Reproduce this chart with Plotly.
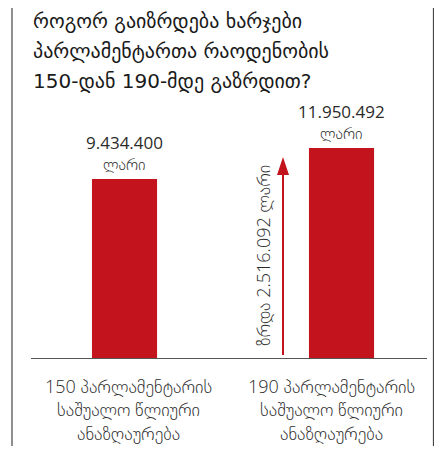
import plotly.graph_objects as go

# ---- data ----
categories = ["150 პარლამენტარის<br>საშუალო წლიური<br>ანაზღაურება",
              "190 პარლამენტარის<br>საშუალო წლიური<br>ანაზღაურება"]
values = [9434400, 11950492]
value_labels = ["9.434.400", "11.950.492"]
unit_label = "ლარი"
increase_label = "ზრდა 2.516.092 ლარი"
title_lines = ["როგორ გაიზრდება ხარჯები",
               "პარლამენტართა რაოდენობის",
               "150-დან 190-მდე გაზრდით?"]

# ---- style / scale ----
RED = "#C3141E"
TXT = "#2b2b2b"
FONT = "Open Sans, DejaVu Sans, sans-serif"
BASE = -5.094e6          # visual baseline of the (not-to-scale) infographic
PPU = 81164.0            # value units per pixel
Y_TOP = BASE + 258 * PPU
xpos = [0, 1]

fig = go.Figure()
fig.add_trace(go.Bar(
    x=xpos, y=[v - BASE for v in values], base=BASE,
    width=0.30, marker=dict(color=RED, line=dict(width=0)),
    hoverinfo="skip", showlegend=False))

ann = []
# value labels
for x, v, lab in zip(xpos, values, value_labels):
    ann.append(dict(x=x, y=v, xref="x", yref="y", text=lab, showarrow=False,
                    yanchor="middle", yshift=37,
                    font=dict(family=FONT, size=17, color=TXT)))
    ann.append(dict(x=x, y=v, xref="x", yref="y", text=unit_label, showarrow=False,
                    yanchor="middle", yshift=15,
                    font=dict(family=FONT, size=16, color=TXT, weight=200)))
# category labels under baseline
for x, c, sh in zip(xpos, categories, [4, -10]):
    ann.append(dict(x=x, y=0, xref="x", yref="paper", text=c, showarrow=False,
                    yanchor="top", yshift=-14, xshift=sh, align="center",
                    font=dict(family=FONT, size=18, color=TXT, weight=200)))
# rotated increase label
ann.append(dict(x=0.638, y=BASE + 103 * PPU, xref="x", yref="y",
                text=increase_label, textangle=-90, showarrow=False,
                font=dict(family=FONT, size=18, color=TXT, weight=200)))
# title lines
for i, t in enumerate(title_lines):
    ann.append(dict(x=0.0, y=(350 - 13 - 30 * i) / 258, xref="paper", yref="paper",
                    text=t, showarrow=False, xanchor="left", yanchor="middle",
                    font=dict(family="DejaVu Sans, sans-serif", size=20, color="#1a1a1a")))

shapes = [
    # arrow shaft
    dict(type="line", xref="x", yref="y", x0=0.7304, x1=0.7304,
         y0=BASE + 3 * PPU, y1=BASE + 185 * PPU, line=dict(color=RED, width=2)),
    # arrow head
    dict(type="path", xref="x", yref="y",
         path=f"M 0.7028 {BASE + 183 * PPU} L 0.7304 {BASE + 201 * PPU} L 0.758 {BASE + 183 * PPU} Z",
         fillcolor=RED, line=dict(width=0)),
    # frame
    dict(type="line", xref="paper", yref="paper", x0=-0.048, x1=-0.048, y0=-0.4, y1=1.45,
         line=dict(color="#444", width=1.2)),
    dict(type="line", xref="paper", yref="paper", x0=1.0164, x1=1.0164, y0=-0.4, y1=1.45,
         line=dict(color="#444", width=1.2)),
]

fig.update_layout(
    width=426, height=438, autosize=False,
    margin=dict(l=23, r=7, t=92, b=88),
    paper_bgcolor="white", plot_bgcolor="white",
    xaxis=dict(range=[-0.431, 1.394], showgrid=False, zeroline=False,
               showticklabels=False, ticks="", showline=True,
               linecolor="#555", linewidth=1.2, fixedrange=True),
    yaxis=dict(range=[BASE, Y_TOP], visible=False, fixedrange=True),
    annotations=ann, shapes=shapes, showlegend=False,
)
fig.write_html("out.html")
